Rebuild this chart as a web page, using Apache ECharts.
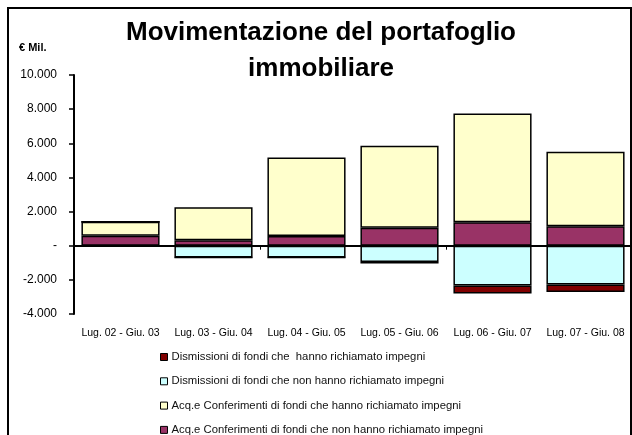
<!DOCTYPE html>
<html>
<head>
<meta charset="utf-8">
<script src="https://cdn.jsdelivr.net/npm/echarts@6/dist/echarts.min.js"></script>
<style>html,body{margin:0;padding:0;background:#fff}#c{width:632px;height:435px}</style>
</head>
<body>
<div id="c"></div>
<script>
const categories = ['Lug. 02 - Giu. 03','Lug. 03 - Giu. 04','Lug. 04 - Giu. 05','Lug. 05 - Giu. 06','Lug. 06 - Giu. 07','Lug. 07 - Giu. 08'];
const acqNonRichiamato = [580, 320, 575, 1045, 1380, 1145];
const acqRichiamato = [820, 1930, 4595, 4805, 6370, 4355];
const dismNonRichiamato = [0, -690, -690, -950, -2330, -2275];
const dismRichiamato = [0, 0, 0, -90, -470, -430];
const names = [
  'Dismissioni di fondi che  hanno richiamato impegni',
  'Dismissioni di fondi che non hanno richiamato impegni',
  'Acq.e Conferimenti di fondi che hanno richiamato impegni',
  'Acq.e Conferimenti di fondi che non hanno richiamato impegni'
];
const yTicks = {min: -4000, max: 10000, interval: 2000};

function fmt(v){
  if (v === 0) return '-';
  const s = Math.abs(v).toString().replace(/\B(?=(\d{3})+(?!\d))/g, '.');
  return (v < 0 ? '-' : '') + s;
}
const font = '"Liberation Sans", Arial, sans-serif';
const border = {borderColor: '#000', borderWidth: 1.5};
function mk(name, data, color){
  return {name, type: 'bar', stack: 's', data, xAxisIndex: 0, barCategoryGap: '16%',
    itemStyle: Object.assign({color}, border)};
}
const chart = echarts.init(document.getElementById('c'), null, {renderer: 'canvas'});
chart.setOption({
  backgroundColor: '#fff',
  animation: false,
  title: {
    text: 'Movimentazione del portafoglio\nimmobiliare',
    left: 321, textAlign: 'center', top: 15, padding: 0,
    textStyle: {fontFamily: font, fontWeight: 'bold', fontSize: 26, lineHeight: 36, color: '#000'}
  },
  graphic: [
    {type: 'rect', shape: {x: 8, y: 8, width: 623, height: 440}, style: {fill: 'none', stroke: '#000', lineWidth: 2}, z: 100},
    {type: 'text', left: 19, top: 42, style: {text: '€ Mil.', font: 'bold 11px ' + font, fill: '#000'}}
  ],
  legend: {
    orient: 'vertical', left: 160, top: 351, height: 120, padding: 0,
    itemWidth: 7, itemHeight: 7, itemGap: 12.3,
    data: names.map(n => ({name: n, icon: 'rect'})),
    textStyle: {fontFamily: font, fontSize: 11.3, lineHeight: 12, color: '#111', padding: [0,0,0,-1]},
    itemStyle: {borderColor: '#000', borderWidth: 1}
  },
  grid: {left: 74, top: 75, width: 560, height: 239},
  xAxis: [
    {type: 'category', data: categories, position: 'bottom',
     axisLine: {show: false, onZero: false}, axisTick: {show: false},
     axisLabel: {fontFamily: font, fontSize: 10.5, color: '#000', margin: 14, interval: 0}},
    {type: 'category', data: categories, position: 'bottom',
     axisLine: {show: true, onZero: true, lineStyle: {color: '#000', width: 2}},
     axisTick: {show: true, length: 4, lineStyle: {color: '#000', width: 1}},
     axisLabel: {show: false}}
  ],
  yAxis: {
    type: 'value', min: yTicks.min, max: yTicks.max, interval: yTicks.interval,
    axisLine: {show: true, lineStyle: {color: '#000', width: 2}},
    axisTick: {show: true, length: 5, lineStyle: {color: '#000', width: 1.5}},
    splitLine: {show: false},
    axisLabel: {formatter: fmt, fontFamily: font, fontSize: 12, color: '#000', margin: 17}
  },
  series: [
    mk(names[3], acqNonRichiamato, '#993366'),
    mk(names[2], acqRichiamato, '#FFFFCC'),
    mk(names[1], dismNonRichiamato, '#CCFFFF'),
    mk(names[0], dismRichiamato, '#800000')
  ]
});
</script>
</body>
</html>
